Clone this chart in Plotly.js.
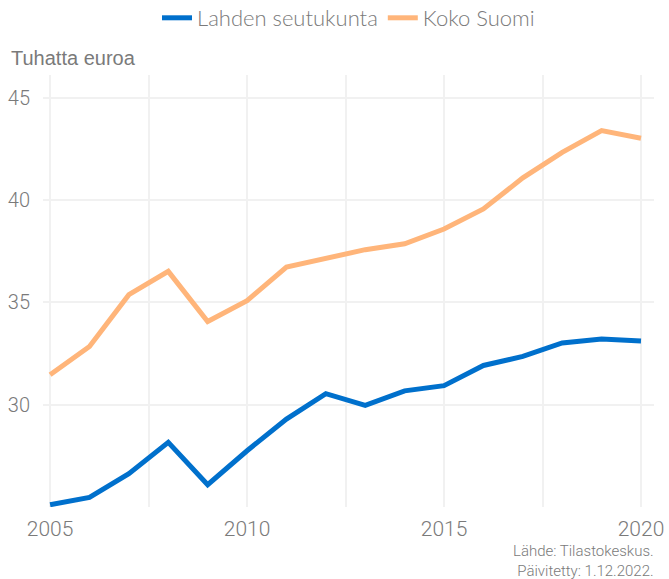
<!DOCTYPE html>
<html>
<head>
<meta charset="utf-8">
<script src="https://cdn.plot.ly/plotly-3.0.1.min.js"></script>
<style>html,body{margin:0;padding:0;background:#fff;}#chart{width:669px;height:579px;}</style>
</head>
<body>
<div id="chart"></div>
<script>
const years = [2005,2006,2007,2008,2009,2010,2011,2012,2013,2014,2015,2016,2017,2018,2019,2020];
const lahti = [25.11,25.47,26.63,28.16,26.09,27.75,29.30,30.54,29.97,30.68,30.93,31.92,32.36,33.02,33.21,33.11];
const suomi = [31.47,32.85,35.38,36.52,34.07,35.09,36.73,37.14,37.58,37.87,38.59,39.57,41.09,42.34,43.40,43.03];
const seriesNames = ["Lahden seutukunta","Koko Suomi"];
const xTickVals = [2005,2007.5,2010,2012.5,2015,2017.5,2020];
const xTickText = ["2005","","2010","","2015","","2020"];
const yTickVals = [30,35,40,45];
const yTickText = ["30","35","40","45"];

const grey = "#7a7a7a";
const traces = [
  {x: years, y: lahti, name: seriesNames[0], type: "scatter", mode: "lines",
   line: {color: "#0070CC", width: 5}, hoverinfo: "skip"},
  {x: years, y: suomi, name: seriesNames[1], type: "scatter", mode: "lines",
   line: {color: "#FFB57A", width: 5}, hoverinfo: "skip"}
];
const layout = {
  width: 669, height: 579,
  margin: {l: 43, r: 15, t: 75, b: 72, autoexpand: false},
  paper_bgcolor: "#fff", plot_bgcolor: "#fff",
  showlegend: true,
  legend: {orientation: "h", x: 0.5, xanchor: "center", y: (507-18)/432, yanchor: "middle",
           font: {family: "Lato, 'Noto Sans', sans-serif", size: 22, color: grey, weight: 300},
           itemwidth: 30, traceorder: "normal"},
  xaxis: {range: [2004.82, 2020.33], tickmode: "array", tickvals: xTickVals, ticktext: xTickText,
          showgrid: true, gridcolor: "#f1f1f1", gridwidth: 2, zeroline: false, showline: false,
          ticks: "outside", ticklen: 3, tickcolor: "rgba(0,0,0,0)",
          tickfont: {family: "Roboto, sans-serif", size: 21, color: grey, weight: 300}},
  yaxis: {range: [25.0, 46.12], tickmode: "array", tickvals: yTickVals, ticktext: yTickText,
          showgrid: true, gridcolor: "#f1f1f1", gridwidth: 2, zeroline: false, showline: false,
          ticks: "outside", ticklen: 8, tickcolor: "rgba(0,0,0,0)",
          tickfont: {family: "Roboto, sans-serif", size: 20, color: grey, weight: 300}},
  annotations: [
    {text: "Tuhatta euroa", xref: "paper", yref: "paper", x: -43/611, y: (507-58)/432,
     xanchor: "left", yanchor: "middle", showarrow: false, xshift: 9,
     font: {family: "'Liberation Sans', Arial, sans-serif", size: 20, color: grey}},
    {text: "Lähde: Tilastokeskus.<br>Päivitetty: 1.12.2022.", xref: "paper", yref: "paper",
     x: 1, y: (507-561)/432, xanchor: "right", yanchor: "middle", align: "right", showarrow: false,
     xshift: 2,
     font: {family: "Roboto, sans-serif", size: 15, color: grey, weight: 300}}
  ]
};
Plotly.newPlot("chart", traces, layout, {displayModeBar: false, staticPlot: true});
</script>
</body>
</html>
